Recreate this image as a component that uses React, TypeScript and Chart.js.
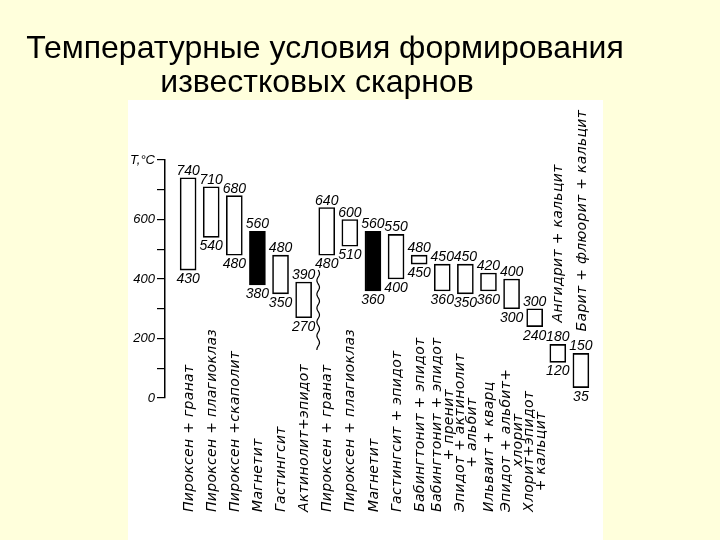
import React, { useEffect, useRef } from 'react';
import { Chart, registerables } from 'chart.js';

Chart.register(...registerables);

// ---------- data ----------
const titleLines = ['Температурные условия формирования', 'известковых скарнов'];

const categories = [
  'Пироксен + гранат',
  'Пироксен + плагиоклаз',
  'Пироксен +скаполит',
  'Магнетит',
  'Гастингсит',
  'Актинолит+эпидот',
  'Пироксен + гранат',
  'Пироксен + плагиоклаз',
  'Магнетит',
  'Гастингсит + эпидот',
  'Бабингтонит + эпидот',
  'Бабингтонит + эпидот\n+ пренит',
  'Эпидот + актинолит\n+ альбит',
  'Ильваит + кварц',
  'Эпидот + альбит+\nхлорит',
  'Хлорит+эпидот\n+ кальцит',
  'Ангидрит + кальцит',
  'Барит + флюорит + кальцит',
];

const highT = [740, 710, 680, 560, 480, 390, 640, 600, 560, 550, 480, 450, 450, 420, 400, 300, 180, 150];
const lowT = [430, 540, 480, 380, 350, 270, 480, 510, 360, 400, 450, 360, 350, 360, 300, 240, 120, 35];

// black-filled bars (magnetite)
const filledBars = [false, false, false, true, false, false, false, false, true, false, false, false, false, false, false, false, false, false];
// category name written above the bar instead of below the axis
const labelAbove = [false, false, false, false, false, false, false, false, false, false, false, false, false, false, false, false, true, true];

const axisLabel = 'T,°C';
const yMin = 0;
const yMax = 800;
const yStep = 100;
const yLabelStep = 200;

// wavy separator between the two groups (after category index 5), temperature range
const breakAfter = 5;
const breakRange = [160, 430];

// ---------- styling ----------
const PAGE_BG = '#FFFFDC';
const TITLE_FONT = "32px 'Liberation Sans', Arial, sans-serif";
const VALUE_FONT = "italic 14px 'Liberation Sans', Arial, sans-serif";
const CAT_FONT = "italic 14px 'DejaVu Sans', sans-serif";

const decorPlugin = {
  id: 'decor',
  beforeDraw(chart: any) {
    const { ctx, width, height } = chart;
    ctx.save();
    ctx.fillStyle = PAGE_BG;
    ctx.fillRect(0, 0, width, height);
    ctx.fillStyle = '#FFFFFF';
    ctx.fillRect(128, 100, 475, 440);
    ctx.fillStyle = '#000';
    ctx.font = TITLE_FONT;
    ctx.textAlign = 'center';
    ctx.textBaseline = 'alphabetic';
    ctx.fillText(titleLines[0], 325, 58);
    ctx.fillText(titleLines[1], 317, 92);
    ctx.restore();
  },
  afterDatasetsDraw(chart: any) {
    const { ctx } = chart;
    const xs = chart.scales.x;
    const ys = chart.scales.y;
    const meta = chart.getDatasetMeta(0);
    ctx.save();
    ctx.fillStyle = '#000';
    ctx.strokeStyle = '#000';

    // value labels
    ctx.font = VALUE_FONT;
    ctx.textAlign = 'center';
    ctx.textBaseline = 'alphabetic';
    meta.data.forEach((bar: any, i: number) => {
      const p = bar.getProps(['x', 'y', 'base'], true);
      const top = Math.min(p.y, p.base);
      const bottom = Math.max(p.y, p.base);
      ctx.fillText(String(highT[i]), p.x, top - 3);
      ctx.fillText(String(lowT[i]), p.x, bottom + 13);
    });

    // category labels (rotated, reading upward)
    ctx.font = CAT_FONT;
    try {
      (ctx as any).letterSpacing = '0.3px';
    } catch (e) {
      /* ignore */
    }
    ctx.textBaseline = 'middle';
    const lineH = 12;
    meta.data.forEach((bar: any, i: number) => {
      const p = bar.getProps(['x', 'y', 'base'], true);
      const lines = categories[i].split('\n');
      const startY = labelAbove[i] ? Math.min(p.y, p.base) - 22 : 512;
      ctx.save();
      ctx.translate(p.x + 1, startY);
      ctx.rotate(-Math.PI / 2);
      if (lines.length === 1) {
        ctx.textAlign = 'left';
        ctx.fillText(lines[0], 0, 0);
      } else {
        const w0 = ctx.measureText(lines[0]).width;
        lines.forEach((ln: string, k: number) => {
          const off = (k - (lines.length - 1) / 2) * lineH;
          ctx.textAlign = 'center';
          ctx.fillText(ln, w0 / 2, off);
        });
      }
      ctx.restore();
    });
    try {
      (ctx as any).letterSpacing = '0px';
    } catch (e) {
      /* ignore */
    }

    // wavy break line
    const bx = (xs.getPixelForValue(breakAfter) + xs.getPixelForValue(breakAfter + 1)) / 2 + 3;
    const y0 = ys.getPixelForValue(breakRange[1]);
    const y1 = ys.getPixelForValue(breakRange[0]);
    ctx.lineWidth = 1.2;
    ctx.beginPath();
    for (let y = y0; y <= y1; y += 1) {
      const x = bx + 1.3 * Math.sin((y - y0) / 2.2);
      if (y === y0) ctx.moveTo(x, y);
      else ctx.lineTo(x, y);
    }
    ctx.stroke();
    ctx.restore();
  },
};

export default function App() {
  const ref = useRef<HTMLCanvasElement | null>(null);

  useEffect(() => {
    if (!ref.current) return;
    const chart = new Chart(ref.current, {
      type: 'bar',
      data: {
        datasets: [
          {
            data: categories.map((_, i) => ({ x: i, y: [lowT[i], highT[i]] })) as any,
            backgroundColor: filledBars.map((f) => (f ? '#000000' : '#FFFFFF')),
            borderColor: '#000000',
            borderWidth: 1.6,
            borderSkipped: false,
            barThickness: 16,
          },
        ],
      },
      options: {
        animation: false,
        responsive: false,
        events: [],
        layout: { padding: { left: 125, right: 116, top: 160, bottom: 142 } },
        plugins: {
          legend: { display: false },
          title: { display: false },
          tooltip: { enabled: false },
        },
        scales: {
          x: {
            type: 'linear',
            min: -1,
            max: categories.length,
            offset: false,
            display: false,
          },
          y: {
            min: yMin,
            max: yMax,
            afterFit: (scale: any) => {
              scale.width = 40;
            },
            ticks: {
              stepSize: yStep,
              color: '#000',
              padding: 2,
              font: { family: "'Liberation Sans', Arial, sans-serif", size: 13, style: 'italic' },
              callback: (v: any) => {
                const n = Number(v);
                if (n === yMax) return axisLabel;
                return n % yLabelStep === 0 ? String(n) : '';
              },
            },
            grid: {
              drawOnChartArea: false,
              drawTicks: true,
              tickLength: 8,
              color: '#000',
              lineWidth: 1.2,
            },
            border: { display: true, color: '#000', width: 1.5 },
          },
        },
      },
      plugins: [decorPlugin],
    });
    return () => chart.destroy();
  }, []);

  return (
    <div style={{ position: 'fixed', left: 0, top: 0, width: 720, height: 540, background: PAGE_BG }}>
      <canvas ref={ref} width={720} height={540} style={{ display: 'block' }} />
    </div>
  );
}
